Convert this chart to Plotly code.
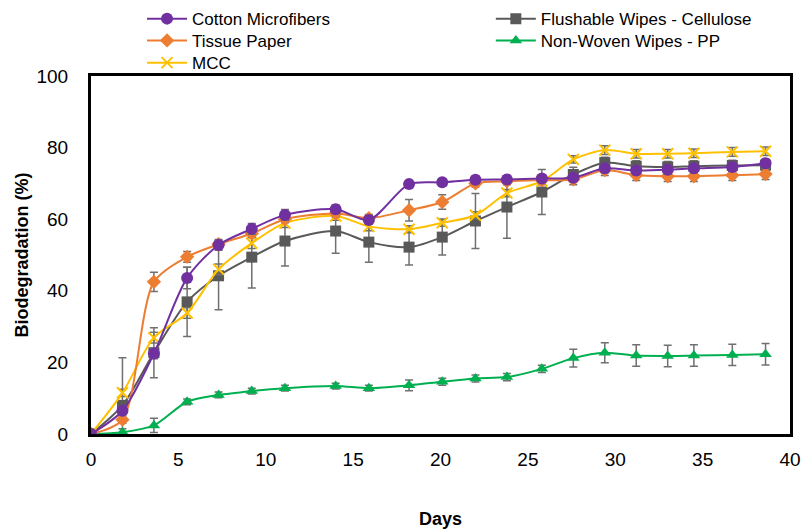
import plotly.graph_objects as go

days = [0, 1.8, 3.6, 5.5, 7.3, 9.2, 11.1, 14.0, 15.9, 18.2, 20.1, 22.0, 23.8, 25.8, 27.6, 29.4, 31.2, 33.0, 34.5, 36.7, 38.6]

cotton = [0, 6.5, 22.5, 43.6, 52.8, 57.3, 61.2, 62.8, 59.8, 69.8, 70.3, 71.0, 71.1, 71.4, 71.6, 74.2, 73.6, 73.8, 74.2, 74.6, 75.6]
cotton_err = [0, 1, 1.5, 3, 1.5, 1.5, 1.5, 1.2, 1.2, 1, 1, 1, 1, 1, 1, 1.2, 1.2, 1.2, 1.2, 1.2, 1.2]

flush = [0, 8.0, 22.7, 36.9, 44.2, 49.4, 53.9, 56.7, 53.6, 52.2, 55.0, 59.5, 63.4, 67.6, 72.5, 75.8, 74.8, 74.6, 74.8, 75.0, 75.1]
flush_err = [0, 13.3, 7.0, 9.7, 9.5, 8.6, 7.0, 6.2, 5.6, 5.0, 5.0, 7.7, 8.7, 6.3, 2.0, 1.5, 1.5, 1.5, 1.5, 1.5, 1.5]

tissue = [0, 4.0, 42.5, 49.5, 53.0, 56.0, 60.0, 61.6, 60.3, 62.5, 64.8, 70.0, 70.6, 70.9, 71.1, 73.7, 72.3, 72.0, 72.0, 72.3, 72.6]
tissue_err = [0, 1, 2.7, 1.5, 1, 1, 1, 1, 1, 3, 2, 1, 1, 1, 1.5, 1.5, 1.5, 1.5, 1.5, 1.5, 1.5]

nonwoven = [0, 0.5, 2.4, 9.0, 10.9, 12.0, 12.8, 13.4, 12.8, 13.6, 14.6, 15.5, 15.9, 18.2, 21.2, 22.7, 21.9, 21.8, 21.9, 22.1, 22.3]
nonwoven_err = [0, 1, 2, 0.8, 0.8, 0.8, 0.8, 0.8, 0.8, 1.5, 1.0, 1.0, 1.0, 1.0, 2.5, 2.8, 3.0, 3.0, 3.0, 3.0, 3.0]

mcc = [0, 11.5, 26.9, 33.8, 46.0, 53.3, 58.9, 60.9, 58.0, 57.2, 59.0, 61.1, 67.3, 70.6, 76.7, 79.3, 78.3, 78.3, 78.4, 78.8, 79.0]
mcc_err = [0, 1, 1.5, 1.5, 1.5, 1.5, 1.2, 1.2, 1.2, 1, 1, 1, 1, 1, 1, 1.2, 1.2, 1.2, 1.2, 1.2, 1.2]

# (name, values, errors, colour, symbol, size, legend id, legend x, legend y)
series = [
    ("Flushable Wipes - Cellulose", flush, flush_err, "#595959", "square", 11, "legend2", 0.572, 1.159),
    ("Non-Woven Wipes - PP", nonwoven, nonwoven_err, "#00B050", "triangle-up", 11, "legend4", 0.572, 1.098),
    ("MCC", mcc, mcc_err, "#FFC000", "x-thin", 11, "legend5", 0.073, 1.036),
    ("Tissue Paper", tissue, tissue_err, "#ED7D31", "diamond", 11, "legend3", 0.073, 1.098),
    ("Cotton Microfibers", cotton, cotton_err, "#7030A0", "circle", 12, "legend", 0.073, 1.159),
]

fig = go.Figure()
legends = {}
for name, vals, err, color, sym, size, leg, lx, ly in series:
    marker = dict(symbol=sym, size=size, color=color)
    if sym == "x-thin":
        marker["line"] = dict(color=color, width=2)
    fig.add_trace(go.Scatter(
        x=days, y=vals, name=name, mode="lines+markers",
        line=dict(color=color, width=2, shape="spline", smoothing=0.8),
        marker=marker,
        error_y=dict(type="data", array=err, visible=True, color="#707070", thickness=1.5, width=4),
        legend=leg,
    ))
    legends[leg] = dict(x=lx, y=ly, xanchor="left", yanchor="middle", orientation="v",
                        font=dict(size=17), itemwidth=40, bgcolor="rgba(0,0,0,0)")

font_family = "Liberation Sans, Arial, sans-serif"
fig.update_layout(
    width=801, height=529,
    margin=dict(l=91, r=11, t=76, b=95, autoexpand=False),
    paper_bgcolor="white", plot_bgcolor="white",
    font=dict(family=font_family, color="black", size=19),
    showlegend=True,
    xaxis=dict(range=[0, 40], tickvals=[0, 5, 10, 15, 20, 25, 30, 35, 40],
               showgrid=False, zeroline=False, showline=True, linecolor="black", linewidth=3,
               mirror=True, ticks="", ticklabelstandoff=6,
               title=dict(text="<b>Days</b>", standoff=44, font=dict(size=18))),
    yaxis=dict(range=[0, 100], tickvals=[0, 20, 40, 60, 80, 100],
               showgrid=False, zeroline=False, showline=True, linecolor="black", linewidth=3,
               mirror=True, ticks="", ticklabelstandoff=16,
               title=dict(text="<b>Biodegradation (%)</b>", standoff=4, font=dict(size=18))),
    **legends,
)

fig.write_html("out.html", config={"displayModeBar": False},
               post_script="document.body.style.margin='0';")
